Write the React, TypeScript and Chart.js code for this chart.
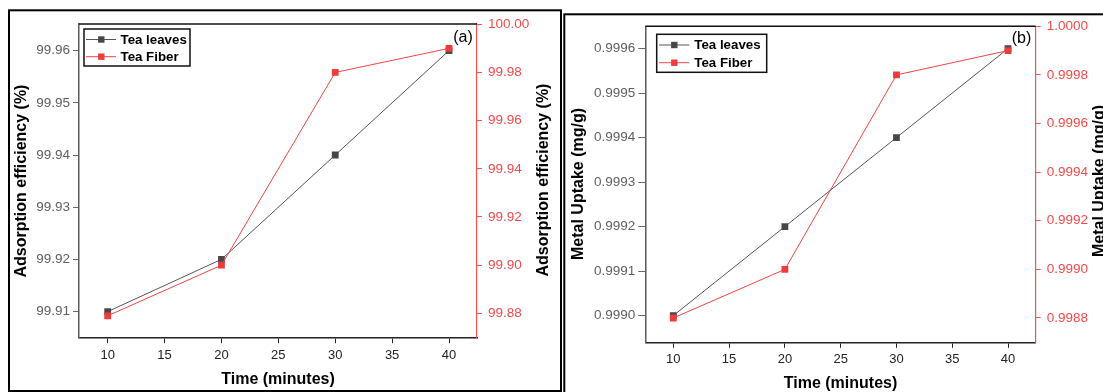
import React, { useEffect, useRef } from "react";
import { Chart, registerables } from "chart.js";

Chart.register(...registerables);

// ---------- data ----------
const timeMinutes = [10, 20, 30, 40];
const leavesEfficiency = [99.91, 99.92, 99.94, 99.96];
const fiberEfficiency = [99.879, 99.9, 99.98, 99.99];
const leavesUptake = [0.999, 0.9992, 0.9994, 0.9996];
const fiberUptake = [0.9988, 0.999, 0.9998, 0.9999];

const xTicks = [10, 15, 20, 25, 30, 35, 40];
const effLeftTicks = [99.91, 99.92, 99.93, 99.94, 99.95, 99.96];
const effRightTicks = [99.88, 99.9, 99.92, 99.94, 99.96, 99.98, 100.0];
const uptakeLeftTicks = [0.999, 0.9991, 0.9992, 0.9993, 0.9994, 0.9995, 0.9996];
const uptakeRightTicks = [0.9988, 0.999, 0.9992, 0.9994, 0.9996, 0.9998, 1.0];

const seriesNames = ["Tea leaves", "Tea Fiber"];

// ---------- styles ----------
const FONT = "'Liberation Sans', Arial, Helvetica, sans-serif";
const GRAY_LINE = "#555555";
const GRAY_MARK = "#474747";
const RED_LINE = "#f04545";
const RED_MARK = "#ee3b3b";
const GRAY_TEXT = "#5f5f5f";
const RED_TEXT = "#f24a4a";

type Panel = {
  width: number;
  height: number;
  area: { left: number; top: number; right: number; bottom: number };
  xRange: [number, number];
  leftRange: [number, number];
  rightRange: [number, number];
  leftTicks: number[];
  rightTicks: number[];
  decimals: number;
  leaves: number[];
  fiber: number[];
  leftTitle: string;
  rightTitle: string;
  leftTitlePos: [number, number];
  rightTitlePos: [number, number];
  xTitlePos: [number, number];
  label: string;
  labelPos: [number, number];
  legend: { x0: number; y0: number; x1: number; y1: number; lx0: number; lx1: number; mx: number; tx: number; rows: number[] };
  frame: { x0: number; y0: number; x1: number; y1: number };
  leftPad: number;
  leftTickLen: number;
  rightPad: number;
  xPad: number;
};

const panelA: Panel = {
  width: 562,
  height: 392,
  area: { left: 79, top: 24, right: 477, bottom: 337.7 },
  xRange: [7.48, 42.46],
  leftRange: [99.905, 99.9651],
  rightRange: [99.8699, 100.0001],
  leftTicks: effLeftTicks,
  rightTicks: effRightTicks,
  decimals: 2,
  leaves: leavesEfficiency,
  fiber: fiberEfficiency,
  leftTitle: "Adsorption efficiency (%)",
  rightTitle: "Adsorption efficiency (%)",
  leftTitlePos: [22, 181],
  rightTitlePos: [543.5, 180],
  xTitlePos: [278, 380],
  label: "(a)",
  labelPos: [463, 38],
  legend: { x0: 84, y0: 29, x1: 190, y1: 66, lx0: 86, lx1: 116, mx: 101.3, tx: 120.5, rows: [39.5, 56.7] },
  frame: { x0: 9, y0: 10.3, x1: 561, y1: 391 },
  leftPad: 3,
  leftTickLen: 6,
  rightPad: 6,
  xPad: 4,
};

const OFFB = 562;
const panelB: Panel = {
  width: 1103 - OFFB,
  height: 392,
  area: { left: 645.3 - OFFB, top: 26.3, right: 1035.7 - OFFB, bottom: 342.3 },
  xRange: [7.49, 42.48],
  leftRange: [0.99894, 0.99965],
  rightRange: [0.9987, 1.0],
  leftTicks: uptakeLeftTicks,
  rightTicks: uptakeRightTicks,
  decimals: 4,
  leaves: leavesUptake,
  fiber: fiberUptake,
  leftTitle: "Metal Uptake (mg/g)",
  rightTitle: "Metal Uptake (mg/g)",
  leftTitlePos: [578.5 - OFFB, 184],
  rightTitlePos: [1100 - OFFB, 181],
  xTitlePos: [840.5 - OFFB, 384],
  label: "(b)",
  labelPos: [1021.5 - OFFB, 38.5],
  legend: {
    x0: 656.7 - OFFB, y0: 34.3, x1: 766.7 - OFFB, y1: 72.3,
    lx0: 659 - OFFB, lx1: 689.3 - OFFB, mx: 674.3 - OFFB, tx: 694.3 - OFFB, rows: [45, 62.7],
  },
  frame: { x0: 564.3 - OFFB, y0: 14.3, x1: 1200 - OFFB, y1: 500 },
  leftPad: 3,
  leftTickLen: 7,
  rightPad: 6,
  xPad: 4,
};

const overlayPlugin = {
  id: "overlay",
  afterDraw(chart: any, _args: any, opts: any) {
    const p: Panel = opts.panel;
    if (!p) return;
    const ctx = chart.ctx as CanvasRenderingContext2D;
    const a = chart.chartArea;
    ctx.save();
    // top border of plot
    ctx.strokeStyle = "#111";
    ctx.lineWidth = 1.5;
    ctx.beginPath();
    ctx.moveTo(a.left, a.top);
    ctx.lineTo(a.right, a.top);
    ctx.stroke();

    // outer frame
    ctx.strokeStyle = "#000";
    ctx.lineWidth = 2;
    ctx.strokeRect(p.frame.x0, p.frame.y0, p.frame.x1 - p.frame.x0, p.frame.y1 - p.frame.y0);

    // legend
    const L = p.legend;
    ctx.fillStyle = "#fff";
    ctx.fillRect(L.x0, L.y0, L.x1 - L.x0, L.y1 - L.y0);
    ctx.strokeStyle = "#111";
    ctx.lineWidth = 1.5;
    ctx.strokeRect(L.x0, L.y0, L.x1 - L.x0, L.y1 - L.y0);
    const lineCols = [GRAY_LINE, RED_LINE];
    const markCols = [GRAY_MARK, RED_MARK];
    L.rows.forEach((ry, i) => {
      ctx.strokeStyle = lineCols[i];
      ctx.lineWidth = 1;
      ctx.beginPath();
      ctx.moveTo(L.lx0, ry);
      ctx.lineTo(L.lx1, ry);
      ctx.stroke();
      ctx.fillStyle = markCols[i];
      ctx.fillRect(L.mx - 3.2, ry - 3.2, 6.4, 6.4);
      ctx.fillStyle = "#000";
      ctx.font = `bold 13.3px ${FONT}`;
      ctx.textAlign = "left";
      ctx.textBaseline = "middle";
      ctx.fillText(seriesNames[i], L.tx, ry + 0.5);
    });

    // axis titles
    ctx.fillStyle = "#000";
    ctx.font = `bold 16px ${FONT}`;
    ctx.textAlign = "center";
    ctx.textBaseline = "middle";
    const vText = (t: string, pos: [number, number]) => {
      ctx.save();
      ctx.translate(pos[0], pos[1]);
      ctx.rotate(-Math.PI / 2);
      ctx.fillText(t, 0, 0);
      ctx.restore();
    };
    vText(p.leftTitle, p.leftTitlePos);
    vText(p.rightTitle, p.rightTitlePos);
    ctx.fillText("Time (minutes)", p.xTitlePos[0], p.xTitlePos[1]);

    // panel label
    ctx.font = `16px ${FONT}`;
    ctx.fillText(p.label, p.labelPos[0], p.labelPos[1]);
    ctx.restore();
  },
};

function buildConfig(p: Panel): any {
  const pts = (ys: number[]) => timeMinutes.map((x, i) => ({ x, y: ys[i] }));
  const setTicks = (arr: number[]) => (axis: any) => {
    axis.ticks = arr.map((value) => ({ value }));
  };
  return {
    type: "line",
    data: {
      datasets: [
        {
          label: seriesNames[0],
          data: pts(p.leaves),
          yAxisID: "yL",
          borderColor: GRAY_LINE,
          backgroundColor: GRAY_MARK,
          borderWidth: 1,
          pointStyle: "rect",
          pointRadius: 4.8,
          pointBorderWidth: 0,
          pointBackgroundColor: GRAY_MARK,
          tension: 0,
          order: 1,
        },
        {
          label: seriesNames[1],
          data: pts(p.fiber),
          yAxisID: "yR",
          borderColor: RED_LINE,
          backgroundColor: RED_MARK,
          borderWidth: 1,
          pointStyle: "rect",
          pointRadius: 4.8,
          pointBorderWidth: 0,
          pointBackgroundColor: RED_MARK,
          tension: 0,
          order: 0,
        },
      ],
    },
    options: {
      responsive: false,
      animation: false,
      devicePixelRatio: 1,
      layout: { padding: { top: p.area.top, left: 0, right: 0, bottom: 0 } },
      plugins: {
        legend: { display: false },
        title: { display: false },
        tooltip: { enabled: false },
        overlay: { panel: p },
      },
      scales: {
        x: {
          type: "linear",
          position: "bottom",
          min: p.xRange[0],
          max: p.xRange[1],
          afterBuildTicks: setTicks(xTicks),
          afterFit: (s: any) => {
            s.height = p.height - p.area.bottom;
          },
          grid: { drawOnChartArea: false, drawTicks: true, tickLength: 5.5, color: "#222", lineWidth: 1 },
          border: { color: "#222", width: 1.5 },
          ticks: { color: "#222", padding: p.xPad, font: { family: FONT, size: 13 }, maxRotation: 0, autoSkip: false },
        },
        yL: {
          type: "linear",
          position: "left",
          min: p.leftRange[0],
          max: p.leftRange[1],
          afterBuildTicks: setTicks(p.leftTicks),
          afterFit: (s: any) => {
            s.width = p.area.left;
          },
          grid: { drawOnChartArea: false, drawTicks: true, tickLength: p.leftTickLen, color: "#666", lineWidth: 1 },
          border: { color: "#5a5a5a", width: 1.5 },
          ticks: {
            color: GRAY_TEXT,
            padding: p.leftPad,
            font: { family: FONT, size: 13.5 },
            autoSkip: false,
            callback: (v: any) => Number(v).toFixed(p.decimals),
          },
        },
        yR: {
          type: "linear",
          position: "right",
          min: p.rightRange[0],
          max: p.rightRange[1],
          afterBuildTicks: setTicks(p.rightTicks),
          afterFit: (s: any) => {
            s.width = p.width - p.area.right;
          },
          grid: { drawOnChartArea: false, drawTicks: true, tickLength: 5, color: "#f25050", lineWidth: 1 },
          border: { color: "#f25050", width: 1.2 },
          ticks: {
            color: RED_TEXT,
            padding: p.rightPad,
            font: { family: FONT, size: 13.5 },
            autoSkip: false,
            callback: (v: any) => Number(v).toFixed(p.decimals),
          },
        },
      },
    },
    plugins: [overlayPlugin],
  };
}

function PanelChart({ panel, left }: { panel: Panel; left: number }) {
  const ref = useRef<HTMLCanvasElement | null>(null);
  useEffect(() => {
    if (!ref.current) return;
    const chart = new Chart(ref.current, buildConfig(panel));
    return () => chart.destroy();
  }, [panel]);
  return (
    <canvas
      ref={ref}
      width={panel.width}
      height={panel.height}
      style={{ position: "absolute", left, top: 0, width: panel.width, height: panel.height }}
    />
  );
}

export default function App() {
  return (
    <div
      style={{
        position: "fixed",
        left: 0,
        top: 0,
        width: 1103,
        height: 392,
        overflow: "hidden",
        background: "#fff",
      }}
    >
      <PanelChart panel={panelA} left={0} />
      <PanelChart panel={panelB} left={OFFB} />
    </div>
  );
}
